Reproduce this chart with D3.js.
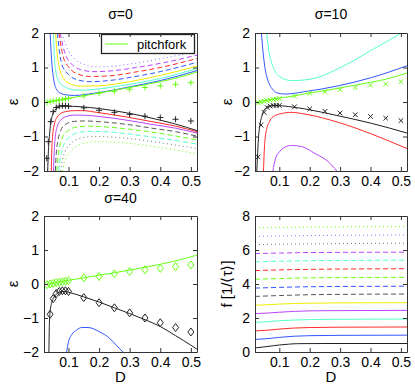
<!DOCTYPE html>
<html lang="en">
<head>
<meta charset="UTF-8" />
<title>eigenvalue branches</title>
<script src="https://cdn.jsdelivr.net/npm/d3@7"></script>
<style>
  body { margin: 0; background: #fff; }
  text { font-family: "Liberation Sans", Arial, sans-serif; fill: #000; }
</style>
</head>
<body>
<svg id="chart" width="415" height="388"></svg>
<script>
/* ---- data: [D, value] pairs ---- */

// sigma = 0, upper family
const s0_green = [[0.02,-0.02],[0.05,0.03],[0.1,0.11],[0.15,0.18],[0.2,0.26],[0.25,0.34],[0.3,0.42],[0.35,0.5],[0.4,0.59],[0.45,0.69],[0.52,0.87]];
const s0_blue  = [[0.040,2],[0.045,1.2],[0.052,0.64],[0.062,0.35],[0.075,0.25],[0.09,0.21],[0.12,0.19],[0.18,0.25],[0.25,0.35],[0.3,0.44],[0.4,0.62],[0.52,0.91]];
const s0_cyan  = [[0.051,2],[0.054,1.3],[0.058,0.93],[0.068,0.6],[0.079,0.49],[0.1,0.39],[0.13,0.34],[0.18,0.36],[0.25,0.44],[0.3,0.51],[0.4,0.68],[0.52,0.97]];
const s0_yel   = [[0.058,2],[0.063,1.4],[0.07,1.0],[0.083,0.7],[0.1,0.55],[0.14,0.46],[0.2,0.47],[0.3,0.59],[0.4,0.77],[0.52,1.04]];
const s0_bDash = [[0.064,2],[0.07,1.5],[0.078,1.1],[0.1,0.8],[0.13,0.64],[0.17,0.59],[0.25,0.64],[0.3,0.71],[0.4,0.88],[0.52,1.15]];
const s0_rDash = [[0.069,2],[0.076,1.6],[0.085,1.25],[0.1,1.02],[0.13,0.81],[0.17,0.74],[0.25,0.77],[0.3,0.84],[0.4,1.0],[0.52,1.26]];
const s0_mDash = [[0.073,2],[0.081,1.65],[0.091,1.36],[0.11,1.1],[0.14,0.94],[0.18,0.88],[0.25,0.91],[0.3,0.97],[0.4,1.12],[0.52,1.36]];
const s0_bDot  = [[0.078,2],[0.088,1.72],[0.1,1.48],[0.12,1.25],[0.15,1.09],[0.19,1.02],[0.25,1.04],[0.3,1.1],[0.4,1.25],[0.52,1.47]];
// sigma = 0, lower family
const s0_black = [[0.032,-2],[0.034,-1.5],[0.038,-0.95],[0.046,-0.43],[0.055,-0.25],[0.062,-0.18],[0.075,-0.13],[0.09,-0.12],[0.144,-0.14],[0.2,-0.19],[0.3,-0.33],[0.373,-0.47],[0.45,-0.64],[0.52,-0.83]];
const s0_red   = [[0.044,-2],[0.045,-1.5],[0.048,-1.0],[0.055,-0.6],[0.062,-0.45],[0.075,-0.33],[0.09,-0.28],[0.12,-0.25],[0.144,-0.25],[0.2,-0.31],[0.3,-0.45],[0.373,-0.57],[0.45,-0.7],[0.52,-0.86]];
const s0_mag   = [[0.051,-2],[0.053,-1.5],[0.057,-1.0],[0.063,-0.72],[0.075,-0.52],[0.09,-0.43],[0.12,-0.38],[0.144,-0.38],[0.2,-0.42],[0.3,-0.54],[0.373,-0.65],[0.45,-0.76],[0.52,-0.9]];
const s0_kDash = [[0.057,-2],[0.06,-1.5],[0.066,-1.1],[0.075,-0.82],[0.09,-0.65],[0.12,-0.56],[0.15,-0.55],[0.2,-0.57],[0.3,-0.66],[0.373,-0.76],[0.45,-0.86],[0.52,-0.99]];
const s0_gDash = [[0.062,-2],[0.066,-1.6],[0.072,-1.25],[0.082,-1.0],[0.1,-0.82],[0.13,-0.72],[0.16,-0.7],[0.2,-0.71],[0.3,-0.79],[0.4,-0.91],[0.52,-1.1]];
const s0_cDash = [[0.068,-2],[0.073,-1.65],[0.08,-1.35],[0.09,-1.15],[0.11,-0.97],[0.14,-0.87],[0.17,-0.85],[0.22,-0.86],[0.3,-0.93],[0.4,-1.05],[0.52,-1.22]];
const s0_kDot  = [[0.074,-2],[0.08,-1.7],[0.088,-1.45],[0.1,-1.28],[0.12,-1.12],[0.15,-1.03],[0.19,-1.0],[0.25,-1.02],[0.3,-1.06],[0.4,-1.18],[0.52,-1.35]];
const s0_gDot  = [[0.08,-2],[0.087,-1.75],[0.096,-1.55],[0.11,-1.4],[0.13,-1.27],[0.16,-1.18],[0.2,-1.15],[0.25,-1.16],[0.3,-1.2],[0.4,-1.32],[0.52,-1.5]];

// sigma = 10
const s10_green = [[0.02,-0.02],[0.05,0.04],[0.1,0.11],[0.15,0.18],[0.2,0.26],[0.25,0.33],[0.3,0.41],[0.35,0.49],[0.4,0.57],[0.45,0.66],[0.52,0.84]];
const s10_cyan  = [[0.058,2],[0.065,1.51],[0.079,1.03],[0.101,0.74],[0.14,0.62],[0.184,0.64],[0.239,0.75],[0.294,0.97],[0.349,1.22],[0.404,1.51],[0.453,1.75],[0.502,2]];
const s10_blue  = [[0.041,2],[0.046,1.5],[0.052,1.03],[0.06,0.7],[0.068,0.5],[0.08,0.35],[0.09,0.27],[0.118,0.23],[0.184,0.3],[0.294,0.47],[0.404,0.71],[0.52,1.05]];
const s10_black = [[0.026,-2],[0.028,-1.6],[0.031,-1.1],[0.037,-0.62],[0.043,-0.4],[0.048,-0.27],[0.056,-0.17],[0.064,-0.12],[0.086,-0.1],[0.13,-0.13],[0.184,-0.2],[0.294,-0.4],[0.404,-0.62],[0.52,-0.9]];
const s10_red   = [[0.048,-2],[0.05,-1.5],[0.052,-1.2],[0.058,-0.8],[0.066,-0.6],[0.075,-0.46],[0.1,-0.35],[0.14,-0.3],[0.184,-0.35],[0.294,-0.59],[0.404,-0.93],[0.52,-1.35]];
const s10_mag   = [[0.079,-2],[0.083,-1.8],[0.09,-1.58],[0.1,-1.45],[0.112,-1.34],[0.14,-1.26],[0.173,-1.29],[0.217,-1.49],[0.261,-1.73],[0.289,-2]];

// sigma = 40
const s40_green = [[0.02,-0.03],[0.05,0.03],[0.1,0.11],[0.15,0.18],[0.2,0.26],[0.25,0.33],[0.3,0.41],[0.35,0.49],[0.4,0.58],[0.45,0.68],[0.52,0.85]];
const s40_black = [[0.036,-2],[0.037,-1.4],[0.039,-0.9],[0.045,-0.55],[0.05,-0.43],[0.06,-0.3],[0.07,-0.24],[0.08,-0.22],[0.09,-0.22],[0.1,-0.24],[0.15,-0.38],[0.2,-0.53],[0.25,-0.7],[0.3,-0.87],[0.35,-1.05],[0.4,-1.25],[0.45,-1.52],[0.5,-1.8],[0.52,-1.92]];
const s40_blue  = [[0.094,-2],[0.1,-1.7],[0.11,-1.5],[0.127,-1.35],[0.143,-1.28],[0.164,-1.28],[0.202,-1.41],[0.235,-1.6],[0.256,-1.8],[0.278,-2]];

// simulation markers
const markD    = [0.03,0.04,0.05,0.06,0.07,0.08,0.09,0.1,0.15,0.2,0.25,0.3,0.35,0.4,0.45,0.5];
const s0_mkG   = [-0.01,0.01,0.03,0.04,0.06,0.07,0.09,0.1,0.18,0.25,0.31,0.37,0.42,0.47,0.51,0.56];
const s0_mkKD  = [0.029,0.034,0.042,0.05,0.06,0.07,0.08,0.09,0.1,0.15,0.2,0.25,0.3,0.35,0.4,0.45,0.5];
const s0_mkK   = [-1.63,-1.15,-0.57,-0.28,-0.16,-0.12,-0.11,-0.11,-0.12,-0.17,-0.24,-0.3,-0.36,-0.41,-0.45,-0.5,-0.55];
const s10_mkG  = [-0.02,0.0,0.02,0.04,0.05,0.07,0.08,0.1,0.17,0.25,0.3,0.36,0.42,0.49,0.52,0.59];
const s10_mkK  = [-1.59,-0.67,-0.3,-0.16,-0.12,-0.1,-0.1,-0.1,-0.14,-0.2,-0.27,-0.32,-0.37,-0.42,-0.47,-0.54];
const s40_mkG  = [-0.02,0.0,0.02,0.04,0.05,0.07,0.08,0.1,0.18,0.22,0.3,0.37,0.42,0.46,0.51,0.56];
const s40_mkKD = [0.04,0.05,0.06,0.07,0.08,0.09,0.1,0.15,0.2,0.25,0.3,0.35,0.4,0.45,0.5];
const s40_mkK  = [-0.89,-0.43,-0.28,-0.22,-0.2,-0.2,-0.22,-0.4,-0.55,-0.7,-0.85,-1.0,-1.14,-1.28,-1.41];

// frequency panel
const f_k  = [[0.02,0.24],[0.05,0.3],[0.08,0.37],[0.1,0.41],[0.13,0.46],[0.16,0.49],[0.25,0.5],[0.52,0.5]];
const f_b  = [[0.02,0.74],[0.05,0.77],[0.08,0.82],[0.1,0.86],[0.15,0.93],[0.2,0.96],[0.3,0.98],[0.52,0.99]];
const f_r  = [[0.02,1.24],[0.06,1.28],[0.1,1.35],[0.15,1.41],[0.2,1.44],[0.3,1.46],[0.52,1.47]];
const f_c  = [[0.02,1.74],[0.06,1.78],[0.1,1.84],[0.15,1.88],[0.25,1.92],[0.52,1.94]];
const f_m  = [[0.02,2.26],[0.06,2.29],[0.1,2.34],[0.15,2.39],[0.25,2.43],[0.52,2.45]];
const f_y  = [[0.02,2.75],[0.06,2.78],[0.1,2.82],[0.2,2.87],[0.3,2.89],[0.52,2.9]];
const f_kd = [[0.02,3.27],[0.1,3.32],[0.2,3.37],[0.3,3.39],[0.52,3.41]];
const f_bd = [[0.02,3.76],[0.1,3.8],[0.2,3.84],[0.52,3.87]];
const f_gd = [[0.02,4.28],[0.1,4.32],[0.2,4.36],[0.52,4.39]];
const f_rd = [[0.02,4.79],[0.1,4.83],[0.2,4.86],[0.52,4.9]];
const f_cd = [[0.02,5.3],[0.1,5.34],[0.2,5.37],[0.52,5.4]];
const f_md = [[0.02,5.79],[0.1,5.82],[0.2,5.85],[0.52,5.87]];
const f_kt = [[0.02,6.32],[0.2,6.36],[0.52,6.4]];
const f_bt = [[0.02,6.8],[0.2,6.85],[0.52,6.88]];
const f_gt = [[0.02,7.32],[0.2,7.35],[0.52,7.38]];

const xTicks = [0.1,0.2,0.3,0.4,0.5];
const epsTicks = [-2,-1,0,1,2];
const fTicks = [0,2,4,6,8];

/* ---- styles ---- */
const C = { k:'#222', b:'#3355ff', r:'#ff2a2a', c:'#55ffcc', m:'#bb44ff', y:'#eeee00', g:'#66ff11', kd:'#555', kt:'#777' };
const DASH = '5,3', DOT = '1,3';

const panels = [
  { x0:44, x1:197, y0:33, y1:171, ydom:[-2,2], yt:epsTicks, title:'σ=0', ty:19, ylab:'ε',
    lines:[
      [s0_kDot,C.kt,DOT],[s0_gDot,C.g,DOT],[s0_cDash,C.c,DASH],[s0_gDash,C.g,DASH],[s0_kDash,C.kd,DASH],
      [s0_mag,C.m],[s0_red,C.r],[s0_black,C.k],
      [s0_bDot,'#7777ff',DOT],[s0_mDash,C.m,DASH],[s0_rDash,C.r,DASH],[s0_bDash,C.b,DASH],
      [s0_yel,C.y],[s0_cyan,C.c],[s0_blue,C.b],[s0_green,C.g]],
    marks:[[markD,s0_mkG,C.g,'plus'],[s0_mkKD,s0_mkK,C.k,'plus']], legend:true },
  { x0:255, x1:407, y0:33, y1:171, ydom:[-2,2], yt:epsTicks, title:'σ=10', ty:19, ylab:'ε',
    lines:[[s10_mag,C.m],[s10_red,C.r],[s10_cyan,C.c],[s10_blue,C.b],[s10_black,C.k],[s10_green,C.g]],
    marks:[[markD,s10_mkG,C.g,'cross'],[markD,s10_mkK,C.k,'cross']] },
  { x0:44, x1:197, y0:216, y1:352, ydom:[-2,2], yt:epsTicks, title:'σ=40', ty:203, ylab:'ε', xlab:'D',
    lines:[[s40_blue,C.b],[s40_black,C.k],[s40_green,C.g]],
    marks:[[markD,s40_mkG,C.g,'diamond'],[s40_mkKD,s40_mkK,C.k,'diamond']] },
  { x0:255, x1:407, y0:216, y1:352, ydom:[0,8], yt:fTicks, ylab:'f [1/⟨τ⟩]', xlab:'D',
    lines:[[f_k,C.k],[f_b,C.b],[f_r,C.r],[f_c,C.c],[f_m,C.m],[f_y,C.y],
           [f_kd,C.kd,DASH],[f_bd,C.b,DASH],[f_gd,C.g,DASH],[f_rd,C.r,DASH],[f_cd,C.c,DASH],[f_md,C.m,DASH],
           [f_kt,C.kt,DOT],[f_bt,'#7777ff',DOT],[f_gt,C.g,DOT]],
    marks:[] }
];

const markPath = {
  plus: 'M-3,0H3M0,-3V3',
  cross: 'M-2.3,-2.3L2.3,2.3M-2.3,2.3L2.3,-2.3',
  diamond: 'M0,-4L3,0L0,4L-3,0Z'
};

const svg = d3.select('#chart');

panels.forEach((p, i) => {
  const x = d3.scaleLinear().domain([0.02, 0.52]).range([p.x0, p.x1]);
  const y = d3.scaleLinear().domain(p.ydom).range([p.y1, p.y0]);

  svg.append('clipPath').attr('id', 'clip' + i)
    .append('rect').attr('x', p.x0).attr('y', p.y0)
    .attr('width', p.x1 - p.x0).attr('height', p.y1 - p.y0);

  const g = svg.append('g').attr('clip-path', `url(#clip${i})`);
  const line = d3.line().x(d => x(d[0])).y(d => y(d[1])).curve(d3.curveMonotoneX);

  p.lines.forEach(([data, color, dash]) => {
    g.append('path').attr('d', line(data))
      .attr('fill', 'none').attr('stroke', color).attr('stroke-width', 1)
      .attr('stroke-dasharray', dash || null);
  });

  p.marks.forEach(([ds, vs, color, shape]) => {
    g.selectAll(null).data(ds.map((d, j) => [d, vs[j]])).join('path')
      .attr('transform', d => `translate(${x(d[0])},${y(d[1])})`)
      .attr('d', markPath[shape])
      .attr('fill', 'none').attr('stroke', color).attr('stroke-width', 1);
  });

  if (p.legend) {
    const lg = svg.append('g');
    lg.append('rect').attr('x', 101.5).attr('y', 34.5).attr('width', 93).attr('height', 19)
      .attr('fill', '#fff').attr('stroke', '#222').attr('stroke-width', 1.3);
    lg.append('line').attr('x1', 105).attr('x2', 128).attr('y1', 44).attr('y2', 44)
      .attr('stroke', C.g).attr('stroke-width', 1);
    lg.append('text').attr('x', 137).attr('y', 49).style('font-size', '13px').text('pitchfork');
  }

  // axes: labelled bottom/left, tick-only top/right, ticks pointing inwards
  const fmtY = d => d < 0 ? '\u2212' + Math.abs(d) : String(d);
  const ax = [
    [d3.axisBottom(x).tickValues(xTicks).tickFormat(d3.format('.1f')), `translate(0,${p.y1})`],
    [d3.axisTop(x).tickValues(xTicks).tickFormat(''), `translate(0,${p.y0})`],
    [d3.axisLeft(y).tickValues(p.yt).tickFormat(fmtY), `translate(${p.x0},0)`],
    [d3.axisRight(y).tickValues(p.yt).tickFormat(''), `translate(${p.x1},0)`]
  ];
  ax.forEach(([a, tr]) => {
    const ag = svg.append('g').attr('transform', tr)
      .call(a.tickSizeInner(-4).tickSizeOuter(0).tickPadding(5));
    ag.select('.domain').attr('stroke', '#333');
    ag.selectAll('.tick line').attr('stroke', '#333');
    ag.selectAll('text').style('font-size', '14px').attr('font-family', null);
  });

  if (p.title) {
    svg.append('text').attr('x', (p.x0 + p.x1) / 2).attr('y', p.ty)
      .attr('text-anchor', 'middle').style('font-size', '14px').text(p.title);
  }
  const ymid = (p.y0 + p.y1) / 2;
  const lx = p.x0 < 100 ? 18 : 232;
  svg.append('text').attr('transform', `translate(${lx},${ymid}) rotate(-90)`)
    .attr('text-anchor', 'middle').style('font-size', '15px').text(p.ylab);
  if (p.xlab) {
    svg.append('text').attr('x', (p.x0 + p.x1) / 2).attr('y', 382)
      .attr('text-anchor', 'middle').style('font-size', '15px').text(p.xlab);
  }
});
</script>
</body>
</html>
